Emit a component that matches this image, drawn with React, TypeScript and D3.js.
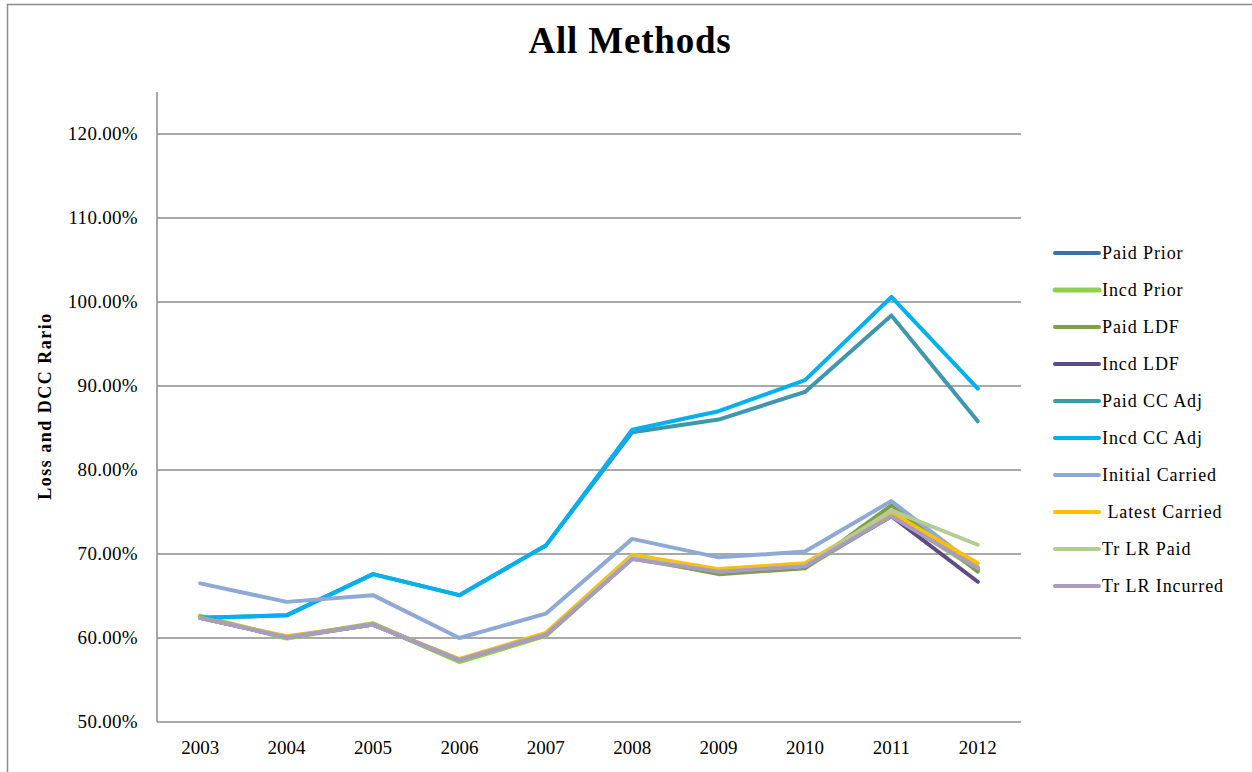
import React, { useEffect, useRef } from 'react';
import * as d3 from 'd3';

// chart data
const years = ['2003', '2004', '2005', '2006', '2007', '2008', '2009', '2010', '2011', '2012'];

const paidPrior = [62.4, 60.1, 61.6, 57.4, 60.4, 69.5, 67.9, 68.5, 74.6, 68.3];
const incdPrior = [62.6, 60.0, 61.7, 57.2, 60.3, 69.5, 67.8, 68.4, 74.6, 68.2];
const paidLDF = [62.4, 60.1, 61.6, 57.4, 60.4, 69.6, 67.6, 68.3, 75.8, 67.9];
const incdLDF = [62.4, 60.1, 61.6, 57.4, 60.4, 69.5, 67.9, 68.5, 74.5, 66.7];
const paidCCAdj = [62.4, 62.7, 67.6, 65.1, 71.0, 84.5, 86.0, 89.3, 98.4, 85.8];
const incdCCAdj = [62.4, 62.7, 67.6, 65.1, 71.0, 84.8, 87.0, 90.7, 100.6, 89.7];
const initialCarried = [66.5, 64.3, 65.1, 60.0, 62.9, 71.8, 69.6, 70.3, 76.3, 68.4];
const latestCarried = [62.4, 60.2, 61.6, 57.5, 60.6, 69.9, 68.2, 68.9, 74.9, 68.9];
const trLRPaid = [62.4, 60.1, 61.6, 57.4, 60.4, 69.6, 67.9, 68.6, 75.2, 71.1];
const trLRIncurred = [62.4, 60.1, 61.6, 57.4, 60.4, 69.4, 67.9, 68.5, 74.5, 68.3];

const seriesNames = ['Paid Prior', 'Incd Prior', 'Paid LDF', 'Incd LDF', 'Paid CC Adj', 'Incd CC Adj', 'Initial Carried', ' Latest Carried', 'Tr LR Paid', 'Tr LR Incurred'];
const seriesValues = [paidPrior, incdPrior, paidLDF, incdLDF, paidCCAdj, incdCCAdj, initialCarried, latestCarried, trLRPaid, trLRIncurred];
const seriesColors = ['#3F6EA8', '#92D050', '#7E9F45', '#5F4A82', '#3F97AE', '#00B0F0', '#8EA9D5', '#FFC000', '#B4CB94', '#A99CC0'];
const seriesWidths = [4, 5, 4, 4, 4, 4, 4, 4, 4, 4];

const yTicks = [50, 60, 70, 80, 90, 100, 110, 120];

export default function App() {
  const ref = useRef<SVGSVGElement>(null);

  useEffect(() => {
    const svg = d3.select(ref.current);
    svg.selectAll('*').remove();

    const w = 1252, h = 772;
    const left = 157, right = 1021, top = 92, bottom = 722;
    const font = '"Liberation Serif", "Times New Roman", serif';

    svg.attr('width', w).attr('height', h);

    // outer chart frame
    svg.append('rect')
      .attr('x', 7.5).attr('y', 4.5)
      .attr('width', w + 20).attr('height', h + 20)
      .attr('fill', 'white').attr('stroke', '#8c8c8c').attr('stroke-width', 1.5);

    const x = d3.scaleBand().domain(years).range([left, right]);
    const y = d3.scaleLinear().domain([50, 125]).range([bottom, top]);

    // gridlines
    svg.selectAll('line.grid')
      .data(yTicks)
      .enter()
      .append('line')
      .attr('x1', left).attr('x2', right)
      .attr('y1', d => y(d)).attr('y2', d => y(d))
      .attr('stroke', '#8c8c8c').attr('stroke-width', 1.5);

    // y axis line
    svg.append('line')
      .attr('x1', left).attr('x2', left)
      .attr('y1', top).attr('y2', bottom)
      .attr('stroke', '#8c8c8c').attr('stroke-width', 1.5);

    svg.selectAll('text.ytick')
      .data(yTicks)
      .enter()
      .append('text')
      .attr('x', 138)
      .attr('y', d => y(d) + 6)
      .attr('text-anchor', 'end')
      .attr('font-family', font).attr('font-size', 19)
      .attr('letter-spacing', 0.3)
      .attr('fill', '#000')
      .text(d => d.toFixed(2) + '%');

    svg.selectAll('text.xtick')
      .data(years)
      .enter()
      .append('text')
      .attr('x', d => (x(d) as number) + x.bandwidth() / 2)
      .attr('y', 754)
      .attr('text-anchor', 'middle')
      .attr('font-family', font).attr('font-size', 19)
      .attr('fill', '#000')
      .text(d => d);

    // title
    svg.append('text')
      .attr('x', 630).attr('y', 53)
      .attr('text-anchor', 'middle')
      .attr('font-family', font).attr('font-size', 37).attr('font-weight', 'bold')
      .attr('letter-spacing', 0.8)
      .text('All Methods');

    // y axis title
    svg.append('text')
      .attr('transform', 'translate(51,406) rotate(-90)')
      .attr('text-anchor', 'middle')
      .attr('font-family', font).attr('font-size', 18).attr('font-weight', 'bold')
      .attr('letter-spacing', 1.5)
      .text('Loss and DCC Rario');

    const line = d3.line<number>()
      .x((d, i) => (x(years[i]) as number) + x.bandwidth() / 2)
      .y(d => y(d));

    seriesValues.forEach((vals, i) => {
      svg.append('path')
        .attr('d', line(vals))
        .attr('fill', 'none')
        .attr('stroke', seriesColors[i])
        .attr('stroke-width', seriesWidths[i])
        .attr('stroke-linejoin', 'round')
        .attr('stroke-linecap', 'round');
    });

    // legend
    const lg = svg.append('g');
    seriesNames.forEach((name, i) => {
      const ly = 253 + i * 37;
      lg.append('line')
        .attr('x1', 1055).attr('x2', 1099)
        .attr('y1', ly).attr('y2', ly)
        .attr('stroke', seriesColors[i])
        .attr('stroke-width', seriesWidths[i])
        .attr('stroke-linecap', 'round');
      lg.append('text')
        .attr('x', 1102).attr('y', ly + 6)
        .attr('font-family', font).attr('font-size', 18)
        .attr('letter-spacing', 0.9)
        .attr('xml:space', 'preserve')
        .style('white-space', 'pre')
        .text(name);
    });
  }, []);

  return (
    <svg ref={ref} style={{ position: 'absolute', left: 0, top: 0 }}></svg>
  );
}
